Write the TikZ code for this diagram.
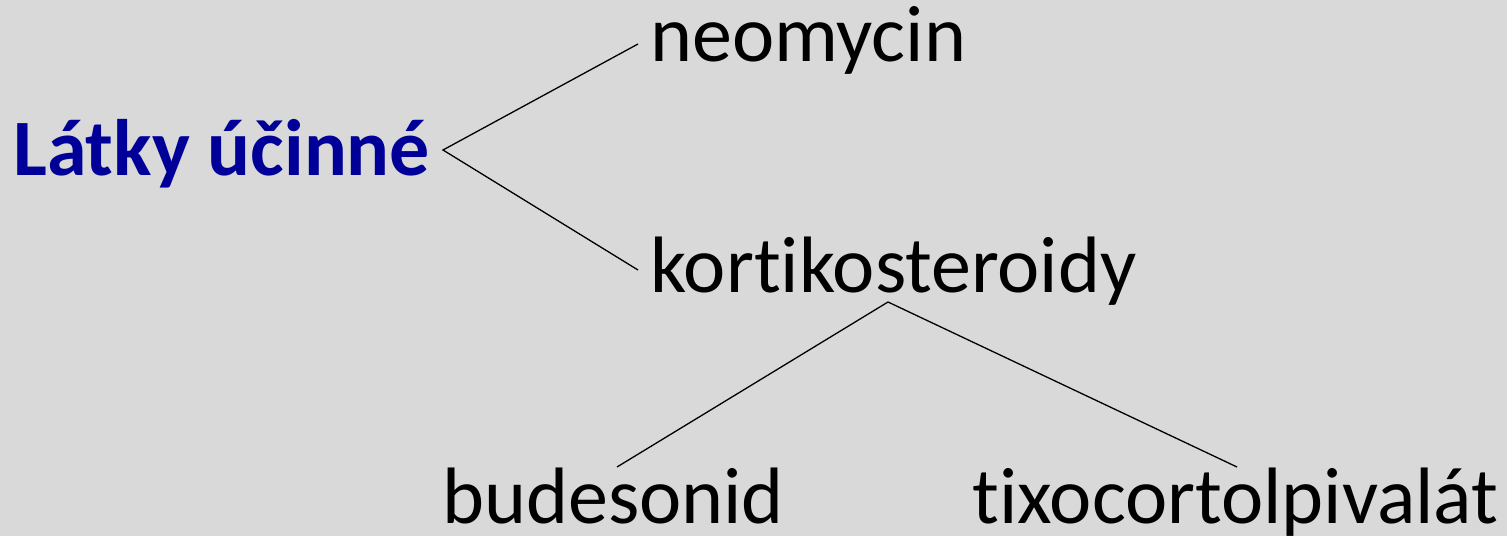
\documentclass[tikz,border=0pt]{standalone}
\usepackage{fontspec}
\setmainfont[RawFeature=-liga]{Carlito}
\definecolor{bg}{HTML}{D9D9D9}
\definecolor{titleblue}{HTML}{000099}
\begin{document}
\begin{tikzpicture}[x=1pt,y=1pt,
  lbl/.style={anchor=base west,inner sep=0pt,font=\fontsize{80}{92}\selectfont},
  ttl/.style={lbl,font=\fontsize{80}{92}\selectfont\bfseries,text=titleblue},
  conn/.style={draw=black,line width=1.3pt}]
\fill[bg] (0,0) rectangle (1507,536);
\useasboundingbox (0,0) rectangle (1507,536);
\node[ttl] (root) at (13,360) {Látky účinné};
\node[lbl] (neo) at (650,474) {neomycin};
\node[lbl] (kort) at (650,243) {kortikosteroidy};
\node[lbl,text depth=0pt] (bud) at (442,13) {budesonid};
\node[lbl,text depth=0pt] (tixo) at (972,13) {tixocortolpivalát};
\coordinate (r) at (443,386);
\coordinate (n) at (638,492);
\coordinate (k) at (638,266);
\coordinate (kb) at (888,234);
\coordinate (b) at (617,69);
\coordinate (t) at (1237,69);
\draw[conn] (n) -- (r) -- (k);
\draw[conn] (b) -- (kb) -- (t);
\end{tikzpicture}
\end{document}
